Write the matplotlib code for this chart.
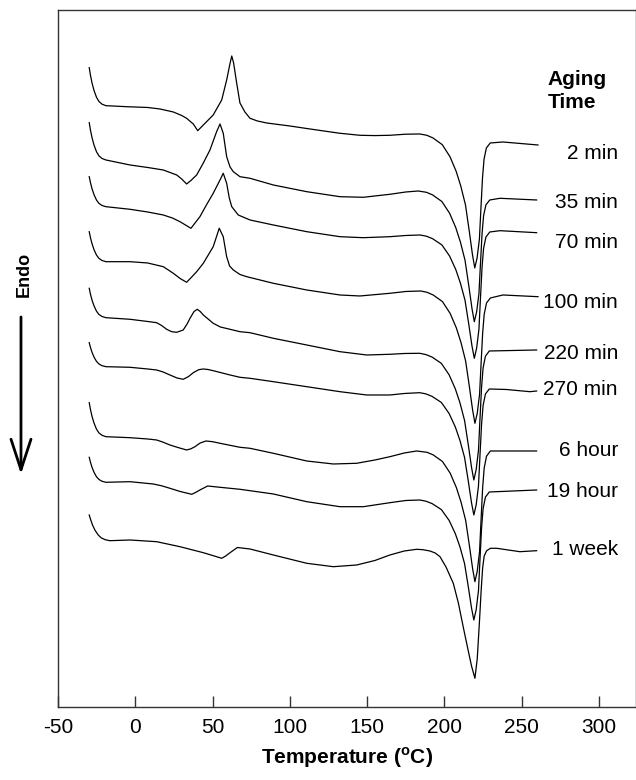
import matplotlib
matplotlib.use("Agg")
import matplotlib.pyplot as plt

plt.rcParams['font.family'] = ['Liberation Sans', 'DejaVu Sans']
plt.rcParams['mathtext.fontset'] = 'custom'
plt.rcParams['mathtext.rm'] = 'Liberation Sans'
plt.rcParams['mathtext.bf'] = 'Liberation Sans:bold'
plt.rcParams['axes.unicode_minus'] = False

# DSC traces, temperature (C) vs. heat flow (arb. units, exo up), stacked
T1 = [-29.8, -29.0, -28.0, -26.7, -25.1, -23.5, -21.5, -19.0, -5.6, 8.0, 16.0, 24.6, 30.0, 33.2, 37.5, 40.4, 44.0, 50.4, 55.9, 59.1, 61.3, 62.4, 63.6, 65.6, 67.7, 70.9, 74.2, 79.0, 85.0, 100.0, 113.0, 132.4, 145.3, 155.0, 164.7, 175.0, 184.1, 188.6, 192.6, 198.6, 203.6, 207.6, 210.6, 213.6, 216.1, 218.1, 219.6, 221.1, 222.6, 223.6, 224.6, 225.6, 227.1, 229.6, 237.8, 260.5]
Y1 = [632.3, 624.7, 617.1, 609.5, 602.7, 598.5, 595.8, 594.3, 593.3, 592.5, 591, 588, 584.5, 581.7, 576, 569.3, 575, 585, 600, 620, 636.7, 644, 637, 616.7, 597, 588, 581.7, 579, 577, 574, 571, 566.7, 564.7, 564.4, 564.7, 565.8, 566, 564.7, 562.0, 555.3, 543.2, 528.5, 513.7, 495.0, 468.2, 445.4, 432, 442, 460.8, 492, 522, 540.8, 552, 557, 558, 555]

T2 = [-29.8, -29.0, -28.0, -26.7, -25.1, -23.5, -21.5, -19.0, -3.4, 8.0, 18.1, 26.8, 30.0, 33.2, 36.0, 39.7, 44.0, 48.3, 52.6, 54.8, 56.9, 59.1, 61.3, 63.4, 67.7, 74.2, 89.3, 110.9, 132.4, 147.5, 164.7, 175.0, 183.0, 188.3, 192.3, 198.3, 203.3, 207.3, 210.3, 213.3, 215.8, 217.8, 219.3, 220.8, 222.3, 223.3, 224.3, 225.3, 226.8, 229.3, 235.9, 259.6]
Y2 = [577.3, 569.8, 562.4, 554.9, 548.2, 544.1, 541.5, 540.0, 535, 532.5, 530, 525, 521, 516, 519.5, 525, 537, 550, 568.3, 576, 566.7, 543.3, 533, 528.3, 523.3, 521.7, 515, 508.3, 503.3, 502.7, 505.7, 508, 509, 507.7, 505.1, 498.5, 486.8, 472.4, 458.0, 439.7, 413.6, 391.4, 378.3, 388, 406.3, 436.7, 465.9, 484.2, 495.1, 500, 501.7, 500]

T3 = [-29.8, -29.0, -28.0, -26.7, -25.1, -23.5, -21.5, -19.0, -3.4, 8.0, 18.1, 24.0, 28.9, 36.0, 41.8, 46.0, 50.4, 54.8, 56.9, 59.1, 60.8, 62.4, 66.6, 74.2, 89.3, 110.9, 132.4, 147.5, 164.7, 175.0, 184.3, 188.3, 192.3, 198.3, 203.3, 207.3, 210.3, 213.3, 215.8, 217.8, 219.3, 220.8, 222.3, 223.3, 224.3, 225.3, 226.8, 229.3, 235.9, 259.6]
Y3 = [523.3, 517.3, 511.3, 505.3, 499.9, 496.6, 494.5, 493.3, 490.7, 488, 485, 482, 478.3, 471.7, 483.3, 495, 506.7, 520, 526.7, 516.7, 502, 493.3, 485, 480, 475, 468.3, 463.3, 462.3, 463.3, 464.5, 465, 463.8, 461.3, 455.1, 444.0, 430.5, 416.9, 399.7, 375.0, 354.0, 341.7, 351.8, 370.7, 402.3, 432.6, 451.6, 462.9, 468, 469.3, 467.3]

T4 = [-29.8, -29.0, -28.0, -26.7, -25.1, -23.5, -21.5, -19.0, -3.4, 8.0, 18.1, 24.6, 29.0, 33.2, 36.5, 39.7, 44.0, 50.4, 54.3, 56.9, 59.1, 61.0, 63.4, 67.7, 72.1, 89.3, 110.9, 132.4, 145.3, 164.7, 175.0, 184.7, 188.7, 192.7, 198.7, 203.7, 207.7, 210.7, 213.7, 216.2, 218.2, 219.7, 221.2, 222.7, 223.7, 224.7, 225.7, 227.2, 229.7, 237.8, 260.5]
Y4 = [468.3, 462.3, 456.3, 450.3, 444.9, 441.6, 439.5, 438.3, 438.3, 437, 433.3, 426.7, 421.5, 417.7, 423, 428.3, 436.7, 453.3, 471.7, 463.3, 443.3, 434, 430, 425.5, 423.3, 416.7, 410, 405, 404, 406.7, 408.5, 409, 407.7, 405.0, 398.4, 386.5, 372.0, 357.4, 338.9, 312.4, 290.0, 276.7, 286.7, 305.5, 336.8, 366.9, 385.7, 397.0, 402, 405, 403.3]

T5 = [-29.8, -29.0, -28.0, -26.7, -25.1, -23.5, -21.5, -19.0, -3.4, 8.0, 13.8, 17.0, 20.3, 23.5, 26.8, 31.0, 33.5, 35.4, 38.0, 40.1, 42.0, 44.0, 50.4, 55.0, 61.3, 67.7, 74.2, 89.3, 110.9, 132.4, 149.7, 164.7, 174.0, 184.0, 188.0, 192.0, 198.0, 203.0, 207.0, 210.0, 213.0, 215.5, 217.5, 219.0, 220.5, 222.0, 223.0, 224.0, 225.0, 226.5, 229.0, 259.6]
Y5 = [411.7, 405.8, 399.9, 394.1, 388.8, 385.5, 383.5, 382.3, 380.7, 378.5, 377.3, 374.5, 370.7, 368.3, 367.7, 370, 376, 381.7, 388.5, 390.7, 388.5, 385, 376.7, 373, 370.7, 368.3, 367.3, 361.7, 355, 348.3, 345, 345.7, 346.5, 346.7, 345.4, 342.9, 336.6, 325.2, 311.2, 297.3, 279.5, 254.2, 232.7, 220, 230.3, 249.7, 281.9, 312.9, 332.2, 343.8, 349, 350]

T6 = [-29.8, -29.0, -28.0, -26.7, -25.1, -23.5, -21.5, -19.0, -3.4, 8.0, 13.8, 18.0, 22.4, 27.0, 31.0, 34.5, 37.5, 41.0, 44.0, 47.0, 50.4, 61.3, 67.7, 74.2, 89.3, 110.9, 132.4, 149.7, 164.7, 174.0, 184.0, 188.0, 192.0, 198.0, 203.0, 207.0, 210.0, 213.0, 215.5, 217.5, 219.0, 220.5, 222.0, 223.0, 224.0, 225.0, 226.5, 229.0, 240.0, 255.3, 259.6]
Y6 = [357.3, 352.5, 347.7, 342.9, 338.6, 336.0, 334.3, 333.3, 332.7, 331, 330, 328, 325, 322, 320.7, 323.5, 327.3, 330.3, 331, 330.5, 329.3, 325, 322.7, 321.7, 318.3, 313.3, 308.3, 305, 305, 306.5, 307.3, 306.1, 303.6, 297.5, 286.5, 273.1, 259.6, 242.5, 218.0, 197.2, 185, 195.1, 214, 245.5, 275.7, 294.6, 306, 311, 310.5, 308.3, 309]

T7 = [-29.8, -29.0, -28.0, -26.7, -25.1, -23.5, -21.5, -19.0, -3.4, 8.0, 13.8, 18.0, 22.4, 28.0, 33.2, 36.0, 38.6, 42.0, 45.7, 50.0, 54.8, 67.7, 74.2, 89.3, 110.9, 128.1, 143.2, 155.0, 164.7, 174.0, 182.0, 188.7, 192.7, 198.7, 203.7, 207.7, 210.7, 213.7, 216.2, 218.2, 219.7, 221.2, 222.7, 223.7, 224.7, 225.7, 227.2, 229.7, 259.6]
Y7 = [297.3, 290.5, 283.7, 276.9, 270.8, 267.0, 264.7, 263.3, 262.3, 261, 260, 257.8, 255, 252.3, 250, 251.2, 253.3, 257, 259, 258.3, 256.7, 252.7, 251.7, 246.7, 239, 236, 236.7, 240, 243.3, 247, 249, 247.7, 245.1, 238.5, 226.8, 212.4, 198.0, 179.7, 153.6, 131.4, 118.3, 128.8, 148.4, 181.0, 212.4, 232.0, 243.8, 249, 249]

T8 = [-29.8, -29.0, -28.0, -26.7, -25.1, -23.5, -21.5, -19.0, -3.4, 11.6, 17.0, 22.4, 29.0, 36.5, 39.0, 41.8, 46.8, 54.8, 67.7, 74.2, 89.3, 110.9, 132.4, 147.5, 164.7, 175.0, 184.0, 188.0, 192.0, 198.0, 203.0, 207.0, 210.0, 213.0, 215.5, 217.5, 219.0, 220.5, 222.0, 223.0, 224.0, 225.0, 226.5, 229.0, 259.6]
Y8 = [242.7, 237.7, 232.7, 227.7, 223.2, 220.5, 218.7, 217.7, 218.3, 216, 214.2, 211.7, 208.5, 205.7, 207.5, 210, 214, 212.7, 210.7, 209.3, 206, 198.3, 193.3, 193.3, 197.3, 199.5, 200, 198.8, 196.4, 190.4, 179.6, 166.4, 153.2, 136.4, 112.4, 92, 80, 90.2, 109.4, 141.4, 172.2, 191.4, 202.9, 208, 210]

T9 = [-29.8, -28.8, -27.6, -26.0, -24.0, -22.0, -19.5, -16.5, -3.4, 13.8, 28.9, 44.0, 50.0, 55.9, 58.5, 61.3, 66.0, 74.2, 89.3, 110.9, 128.1, 143.2, 155.0, 164.7, 174.0, 182.0, 186.0, 190.6, 194.0, 197.1, 201.0, 205.7, 209.0, 212.1, 215.0, 217.5, 219.7, 221.2, 222.7, 223.7, 224.7, 225.7, 227.2, 229.7, 233.8, 248.8, 259.6]
Y9 = [185, 179.9, 174.7, 169.6, 165.0, 162.1, 160.3, 159.3, 160, 158.3, 153.3, 147.3, 144.5, 141.7, 144, 147.3, 152.5, 151, 145, 136.7, 133.3, 135, 139.5, 145, 149, 150.7, 150.3, 149, 147, 143.3, 133, 116.7, 97, 73.3, 52, 34, 21.7, 41.2, 80.2, 108.8, 132.2, 143.9, 149.1, 151.7, 151.7, 148.3, 149.3]

aging_times = ['2 min', '35 min', '70 min', '100 min', '220 min', '270 min',
               '6 hour', '19 hour', '1 week']
temps = [T1, T2, T3, T4, T5, T6, T7, T8, T9]
flows = [Y1, Y2, Y3, Y4, Y5, Y6, Y7, Y8, Y9]

# where each aging-time label sits (right edge x, centre y)
label_x = 312.2
label_y = [546, 497.3, 457.3, 397.7, 346, 310, 249, 208, 150]

fig = plt.figure(figsize=(6.36, 7.8), dpi=100, facecolor='white')
ax = fig.add_axes([0.0912, 0.0936, 0.9088, 0.8936])

for t, y in zip(temps, flows):
    ax.plot(t, y, color='black', lw=0.9, solid_joinstyle='round')

for name, ly in zip(aging_times, label_y):
    ax.text(label_x, ly, name, ha='right', va='center', fontsize=15)

ax.text(266.9, 620, 'Aging', ha='left', va='center', fontsize=15, fontweight='bold')
ax.text(266.9, 597, 'Time', ha='left', va='center', fontsize=15, fontweight='bold')

ax.set_xlim(-50, 323.9)
ax.set_ylim(-7, 690)
ax.set_xticks([-50, 0, 50, 100, 150, 200, 250, 300])
ax.set_yticks([])
ax.tick_params(axis='x', direction='in', length=8, width=1, color='#333333',
               labelsize=15, pad=8)
for s in ax.spines.values():
    s.set_color('#333333')
    s.set_linewidth(1)
ax.set_xlabel(r'Temperature ($^{\mathbf{o}}$C)', fontsize=15, fontweight='bold',
              labelpad=6)

# endotherm direction marker on the left
fig.text(0.0377, 0.6487, 'Endo', rotation=90, ha='center', va='center',
         fontsize=13, fontweight='bold')
ax.annotate('', xy=(0.033, 0.392), xycoords='figure fraction',
            xytext=(0.033, 0.5936), textcoords='figure fraction',
            arrowprops=dict(arrowstyle='->, head_length=1.1, head_width=0.36',
                            lw=2, color='black', mutation_scale=20,
                            shrinkA=0, shrinkB=0))

fig.savefig('out.png', dpi=100)
